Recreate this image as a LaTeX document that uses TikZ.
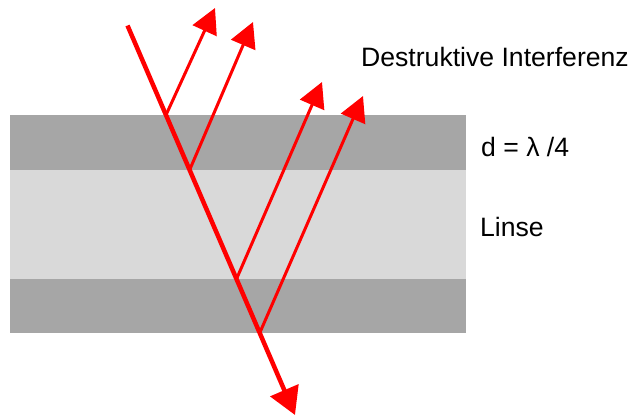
\documentclass[tikz,border=0pt]{standalone}
\usepackage{fontspec}
\setmainfont{Liberation Sans}
\usetikzlibrary{arrows.meta}
\definecolor{coatgray}{HTML}{A6A6A6}
\definecolor{lensgray}{HTML}{D9D9D9}
\begin{document}
\begin{tikzpicture}[x=1pt,y=-1pt,
  incident/.style={draw=red,line width=4.5pt,-{Triangle[length=27pt,width=30pt]}},
  reflected/.style={draw=red,line width=3pt,-{Triangle[length=25pt,width=26pt]}},
  label/.style={anchor=base west,inner sep=0pt,font=\fontsize{26.6}{30}\selectfont}]
  \useasboundingbox (0,0) rectangle (633,416);
  % coating layers and lens
  \fill[coatgray] (10,115) rectangle (466,170);
  \fill[lensgray] (10,170) rectangle (466,279);
  \fill[coatgray] (10,279) rectangle (466,333);
  % points on the incident ray
  \coordinate (src) at (127.5,25.5);
  \coordinate (r1) at (166,115);
  \coordinate (r2) at (189.6,170);
  \coordinate (r3) at (236.5,279);
  \coordinate (r4) at (259.7,333);
  \coordinate (out) at (295,415);
  % reflected ray tips
  \coordinate (t1) at (215,8);
  \coordinate (t2) at (253,22);
  \coordinate (t3) at (322,82);
  \coordinate (t4) at (363,96);
  % reflected rays
  \draw[reflected] (r1) -- (t1);
  \draw[reflected] (r2) -- (t2);
  \draw[reflected] (r3) -- (t3);
  \draw[reflected] (r4) -- (t4);
  % incident ray
  \draw[incident] (src) -- (out);
  % labels
  \node[label] (title) at (361,66) {Destruktive Interferenz};
  \node[label] (thick) at (481,156) {d = λ /4};
  \node[label] (lens) at (480,236) {Linse};
\end{tikzpicture}
\end{document}
